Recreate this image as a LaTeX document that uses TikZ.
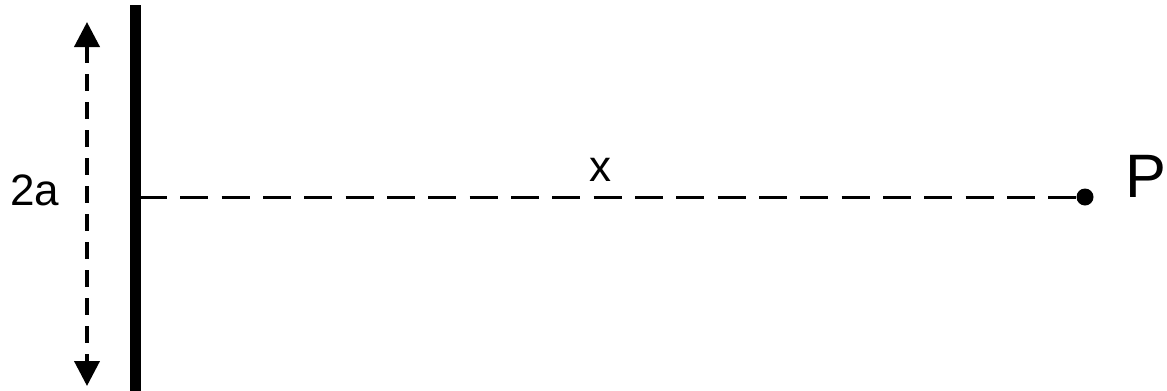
\documentclass[tikz,border=0pt]{standalone}
\usepackage{fontspec}
\setmainfont{Liberation Sans}
\usetikzlibrary{arrows.meta,positioning}

\begin{document}
\begin{tikzpicture}[x=0.75pt,y=-0.75pt,>={Triangle[length=18.75pt,width=18.75pt]},
  lbl/.style={inner sep=0pt,font=\fontsize{33}{38}\selectfont},
  dot/.style={circle,fill,inner sep=0pt,minimum size=12.75pt}]
\useasboundingbox (0,0) rectangle (1167,390);
\coordinate (T) at (135,5); \coordinate (B) at (135,392); \coordinate (M) at (135,197);
\coordinate (U) at (87,22); \coordinate (D) at (87,386);
\draw[line width=8.25pt] (T)--(B);
\draw[<->,line width=3pt,dash pattern=on 12.75pt off 8.25pt] (U)--(D);
\node[dot] (P) at (1085,197) {};
\draw[line width=2.25pt,dash pattern=on 21pt off 10pt] ([xshift=3pt]M)--(P.center);
\node[lbl,anchor=base west] (twoa) at (10,205) {2a};
\node[lbl,anchor=base] (xl) at (600,181) {x};
\node[inner sep=0pt,anchor=base east,font=\fontsize{46}{52}\selectfont] (Pl) at (1167,197) {P};
\end{tikzpicture}
\end{document}
